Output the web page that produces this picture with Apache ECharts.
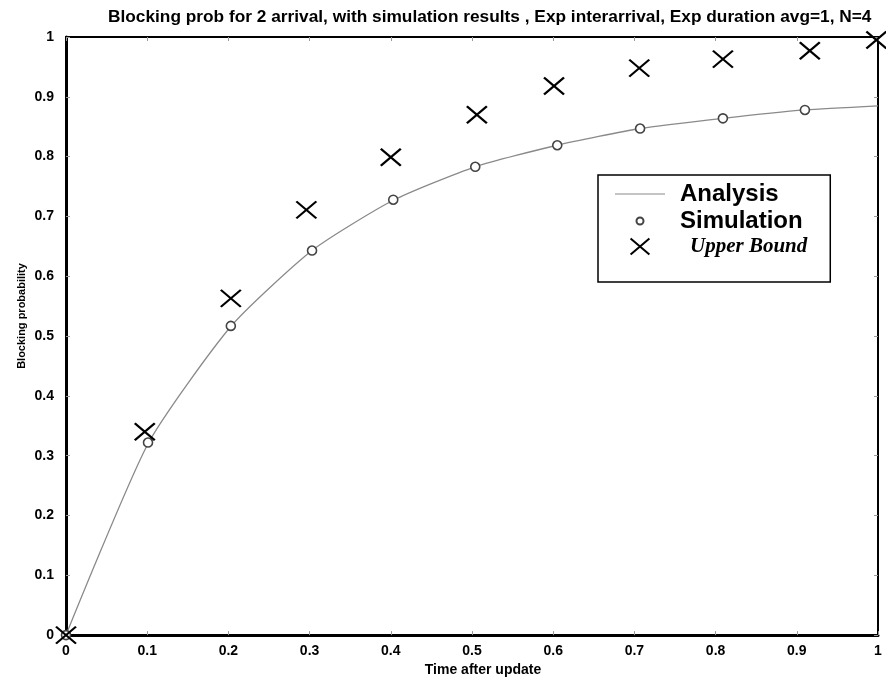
<!DOCTYPE html>
<html>
<head>
<meta charset="utf-8">
<title>Blocking probability</title>
<script src="https://cdn.jsdelivr.net/npm/echarts@6/dist/echarts.min.js"></script>
<style>
  html, body { margin: 0; padding: 0; background: #fff; }
  #chart { width: 886px; height: 682px; }
</style>
</head>
<body>
<div id="chart"></div>
<script>
// values
const analysisX = [0, 0.101, 0.203, 0.303, 0.403, 0.504, 0.605, 0.707, 0.809, 0.910, 1.0]
const analysisY = [0, 0.320, 0.516, 0.643, 0.727, 0.783, 0.819, 0.847, 0.864, 0.878, 0.885]
const simX = [0, 0.101, 0.203, 0.303, 0.403, 0.504, 0.605, 0.707, 0.809, 0.910]
const simY = [0, 0.322, 0.517, 0.643, 0.728, 0.783, 0.819, 0.847, 0.864, 0.878]
const boundX = [0, 0.097, 0.203, 0.296, 0.400, 0.506, 0.601, 0.706, 0.809, 0.916, 0.998]
const boundY = [0, 0.340, 0.563, 0.711, 0.799, 0.870, 0.918, 0.948, 0.963, 0.977, 0.995]
const seriesNames = ['Analysis', 'Simulation', 'Upper Bound']

const pairs = (xs, ys) => xs.map((x, i) => [x, ys[i]])

const font = '"Liberation Sans", Arial, sans-serif'
const tickStyle = { show: true, inside: true, length: 4, lineStyle: { color: '#999', width: 1 } }

const chart = echarts.init(document.getElementById('chart'))
chart.setOption({
  animation: false,
  title: {
    text: 'Blocking prob for 2 arrival, with simulation results , Exp interarrival, Exp duration avg=1, N=4',
    left: 103,
    top: 4,
    textStyle: { fontFamily: font, fontSize: 17.3, fontWeight: 'bold', color: '#000' }
  },
  grid: { left: 66, right: 8, top: 37, bottom: 45, containLabel: false },
  legend: {
    // the extra moveTo points keep each icon box at full size
    data: [
      { name: seriesNames[0], icon: 'path://M0,0M50,16M0,7.4H50V8.6H0Z' },
      { name: seriesNames[1], icon: 'path://M0,0M16,16M4.5,8A3.5,3.5,0,1,1,11.5,8A3.5,3.5,0,1,1,4.5,8Z' },
      { name: seriesNames[2] }
    ],
    orient: 'vertical',
    left: 598,
    top: 175,
    padding: [7, 23, 25, 17],
    itemGap: 3,
    itemWidth: 50,
    itemHeight: 16,
    borderColor: '#000',
    borderWidth: 1.5,
    formatter: name => name === 'Upper Bound' ? '{ub|' + name + '}' : '{sa|' + name + '}',
    textStyle: {
      padding: [0, 0, 0, 10],
      rich: {
        sa: { fontFamily: font, fontSize: 24, fontWeight: 'bold', color: '#000', lineHeight: 24 },
        ub: { fontFamily: '"Liberation Serif", "Times New Roman", serif', fontSize: 21, fontWeight: 'bold', fontStyle: 'italic', color: '#000', lineHeight: 24, padding: [0, 0, 0, 10] }
      }
    }
  },
  xAxis: [
    {
      type: 'value',
      min: 0,
      max: 1,
      interval: 0.1,
      name: 'Time after update',
      nameLocation: 'middle',
      nameGap: 24,
      nameTextStyle: { fontFamily: font, fontSize: 14, fontWeight: 'bold', color: '#000', padding: [0, 0, 0, 22] },
      axisLine: { onZero: false, lineStyle: { color: '#000', width: 3 } },
      axisTick: tickStyle,
      axisLabel: { margin: 9, fontFamily: font, fontSize: 14, fontWeight: 'bold', color: '#000' },
      splitLine: { show: false }
    },
    {
      type: 'value',
      position: 'top',
      min: 0,
      max: 1,
      interval: 0.1,
      axisLine: { show: true, onZero: false, lineStyle: { color: '#000', width: 2 } },
      axisTick: tickStyle,
      axisLabel: { show: false },
      splitLine: { show: false }
    }
  ],
  yAxis: [
    {
      type: 'value',
      min: 0,
      max: 1,
      interval: 0.1,
      axisLine: { show: true, onZero: false, lineStyle: { color: '#000', width: 3 } },
      axisTick: tickStyle,
      axisLabel: { margin: 12, fontFamily: font, fontSize: 14, fontWeight: 'bold', color: '#000' },
      splitLine: { show: false }
    },
    {
      type: 'value',
      position: 'right',
      min: 0,
      max: 1,
      interval: 0.1,
      axisLine: { show: true, onZero: false, lineStyle: { color: '#000', width: 2 } },
      axisTick: tickStyle,
      axisLabel: { show: false },
      splitLine: { show: false }
    }
  ],
  graphic: [
    {
      type: 'text',
      x: 22,
      y: 316,
      rotation: Math.PI / 2,
      style: {
        text: 'Blocking probability',
        font: 'bold 11px ' + font,
        fill: '#000',
        align: 'center',
        verticalAlign: 'middle'
      }
    }
  ],
  series: [
    {
      name: seriesNames[0],
      type: 'line',
      data: pairs(analysisX, analysisY),
      symbol: 'none',
      smooth: 0.2,
      lineStyle: { color: '#8a8a8a', width: 1.3 },
      itemStyle: { color: '#8a8a8a' },
      z: 2
    },
    {
      name: seriesNames[1],
      type: 'scatter',
      data: pairs(simX, simY),
      symbol: 'circle',
      symbolSize: 9,
      itemStyle: { color: '#fff', borderColor: '#444', borderWidth: 1.6, opacity: 1 },
      z: 3
    },
    {
      name: seriesNames[2],
      type: 'scatter',
      data: pairs(boundX, boundY),
      symbol: 'path://M0,0L20,17M20,0L0,17',
      symbolSize: [20, 17],
      itemStyle: { color: 'rgba(0,0,0,0)', borderColor: '#000', borderWidth: 2.2, opacity: 1 },
      z: 4
    }
  ]
})
</script>
</body>
</html>
